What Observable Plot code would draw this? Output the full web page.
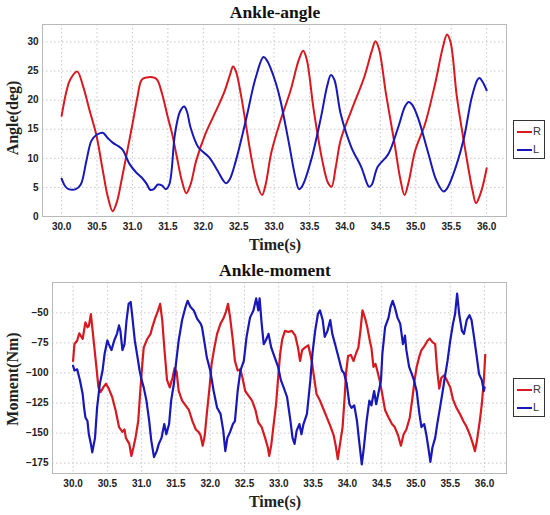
<!DOCTYPE html>
<html>
<head>
<meta charset="utf-8">
<script src="https://cdn.jsdelivr.net/npm/d3@7"></script>
<script src="https://cdn.jsdelivr.net/npm/@observablehq/plot@0.6"></script>
<style>
  body { margin: 0; background: #fff; }
  #wrap { position: relative; width: 550px; height: 515px; background: #fff; overflow: hidden; }
  .abs { position: absolute; }
  .title { position: absolute; left: 0; width: 550px; text-align: center; font-family: "Liberation Serif", serif; font-weight: bold; font-size: 17.5px; line-height: 17.5px; color: #111; }
  .xlab { position: absolute; left: 0; width: 550px; text-align: center; font-family: "Liberation Serif", serif; font-weight: bold; font-size: 16px; line-height: 16px; color: #222; }
  .ylab { position: absolute; font-family: "Liberation Serif", serif; font-weight: bold; font-size: 16px; line-height: 16px; color: #222; white-space: nowrap; transform: translate(-50%, -50%) rotate(-90deg); }
  .legend { position: absolute; border: 1px solid #333; background: #fff; font-family: "Liberation Sans", sans-serif; font-size: 11px; color: #333; box-sizing: border-box; }
  .legend .row { position: absolute; left: 3px; height: 12px; line-height: 12px; white-space: nowrap; }
  .legend .sw { display: inline-block; width: 15px; height: 2.4px; vertical-align: middle; margin-right: 1px; }
</style>
</head>
<body>
<div id="wrap">
  <div class="title" style="top:4px">Ankle-angle</div>
  <div class="abs" id="p1" style="left:0;top:0"></div>
  <div class="xlab" style="top:237px;padding-left:0">Time(s)</div>
  <div class="ylab" style="left:13px;top:118px">Angle(deg)</div>
  <div class="legend" style="left:513px;top:120px;width:32px;height:39px">
    <div class="row" style="top:4px"><span class="sw" style="background:#d71920"></span>R</div>
    <div class="row" style="top:22px"><span class="sw" style="background:#1818b8"></span>L</div>
  </div>

  <div class="title" style="top:262px">Ankle-moment</div>
  <div class="abs" id="p2" style="left:0;top:255px"></div>
  <div class="xlab" style="top:494px">Time(s)</div>
  <div class="ylab" style="left:13px;top:379px">Moment(Nm)</div>
  <div class="legend" style="left:513px;top:378px;width:32px;height:39px">
    <div class="row" style="top:4px"><span class="sw" style="background:#d71920"></span>R</div>
    <div class="row" style="top:22px"><span class="sw" style="background:#1818b8"></span>L</div>
  </div>
</div>
<script>
// ---------- data ----------
const xTicks = [30.0, 30.5, 31.0, 31.5, 32.0, 32.5, 33.0, 33.5, 34.0, 34.5, 35.0, 35.5, 36.0];
const angleTicks = [0, 5, 10, 15, 20, 25, 30];
const momentTicks = [-50, -75, -100, -125, -150, -175];
const seriesNames = ["R", "L"];
const seriesColors = ["#d71920", "#1818b8"];

// Ankle angle, right
const angleRT = [30.0,30.07,30.12,30.22,30.3,30.4,30.49,30.58,30.65,30.72,30.78,30.85,30.91,31.0,31.07,31.13,31.2,31.3,31.35,31.42,31.5,31.56,31.63,31.7,31.76,31.82,31.9,32.03,32.2,32.3,32.38,32.42,32.46,32.53,32.6,32.68,32.76,32.83,32.88,32.96,33.09,33.23,33.35,33.41,33.46,33.56,33.68,33.76,33.81,33.87,33.94,34.09,34.27,34.38,34.43,34.48,34.58,34.7,34.78,34.84,34.9,34.99,35.13,35.27,35.38,35.44,35.49,35.58,35.7,35.8,35.85,35.9,35.95,36.0];
const angleRV = [17.3,21.6,23.5,24.9,22.5,18,14,8,3.5,0.9,2.5,6.5,10.2,15.9,20.5,23.5,23.9,23.9,23.5,21,17,14.2,10,6,4.0,5.5,9.6,14.2,18.7,21.5,24.5,25.8,25,21,15.9,10,5.5,3.7,5.5,11,16.5,21.6,27,28.5,27,18.2,9.6,5.8,5.1,8.5,13.2,18.2,23.9,28.5,30.1,28.8,21,12.5,6.5,3.7,6,11.3,15.9,22.7,29,31.3,30,20.5,11.3,4.5,2.3,3.5,5.5,8.3];
// Ankle angle, left
const angleLT = [30.0,30.05,30.1,30.2,30.27,30.35,30.42,30.49,30.58,30.65,30.72,30.8,30.86,30.96,31.05,31.13,31.2,31.25,31.3,31.36,31.42,31.47,31.52,31.6,31.67,31.73,31.77,31.82,31.93,32.08,32.2,32.28,32.32,32.37,32.46,32.6,32.74,32.85,32.9,32.95,33.03,33.09,33.21,33.3,33.35,33.4,33.52,33.66,33.75,33.8,33.85,33.94,34.09,34.23,34.34,34.38,34.46,34.61,34.75,34.85,34.9,34.95,35.03,35.18,35.29,35.39,35.44,35.53,35.67,35.79,35.87,35.9,35.94,36.0];
const angleLV = [6.5,5.2,4.7,4.7,5.5,9.6,13,14.0,14.4,13.5,12.7,12.1,11.5,9,7.6,6.7,5.6,4.6,4.7,5.5,5.3,4.7,5.5,14.2,18,18.9,18,15.3,11.9,10.2,7.9,6.2,5.7,6.3,9.6,16.5,23.9,27.4,26.8,25.5,22.7,19.9,12.5,6.7,4.7,5.3,9.6,17,22.5,24.3,23.5,17.6,11.9,8.5,5.1,5.5,8.5,10.7,15.3,19,19.7,19.2,17,10.7,6.2,4.3,4.8,7.3,13,20.5,23.5,23.8,23.2,21.7];

// Ankle moment, right
const momentRT = [30.0,30.02,30.06,30.09,30.11,30.14,30.16,30.18,30.21,30.23,30.26,30.28,30.31,30.34,30.37,30.40,30.44,30.48,30.52,30.57,30.62,30.67,30.72,30.75,30.77,30.82,30.85,30.88,30.91,30.95,30.98,31.01,31.03,31.08,31.13,31.15,31.2,31.24,31.27,31.3,31.33,31.37,31.41,31.45,31.48,31.51,31.54,31.59,31.64,31.69,31.74,31.79,31.83,31.86,31.89,31.92,31.95,31.99,32.02,32.06,32.1,32.15,32.19,32.23,32.26,32.29,32.33,32.36,32.4,32.44,32.47,32.51,32.56,32.61,32.66,32.7,32.75,32.8,32.84,32.86,32.89,32.92,32.96,32.99,33.02,33.05,33.09,33.14,33.19,33.24,33.28,33.31,33.34,33.38,33.43,33.48,33.52,33.55,33.6,33.65,33.7,33.75,33.8,33.83,33.86,33.89,33.93,33.96,33.98,34.01,34.05,34.09,34.13,34.16,34.19,34.22,34.26,34.29,34.33,34.35,34.38,34.41,34.44,34.47,34.5,34.55,34.6,34.65,34.69,34.74,34.78,34.82,34.86,34.91,34.95,34.98,35.01,35.05,35.08,35.13,35.17,35.2,35.24,35.28,35.31,35.34,35.37,35.41,35.45,35.5,35.54,35.59,35.64,35.69,35.74,35.79,35.83,35.86,35.89,35.93,35.96,35.99,36.01];
const momentRV = [-90,-76,-73,-67,-69,-71.7,-64.7,-58,-62,-61,-51,-62,-78.6,-95,-112,-116,-112,-109,-113,-120,-131,-145,-149,-147,-154,-159,-169,-162,-154,-140,-115,-92.5,-79,-72,-67.5,-63,-54,-48,-42.5,-56,-79,-106,-112,-104,-96,-99,-115,-123,-127,-131,-140,-147,-149,-152,-160.5,-152,-134,-112,-92.5,-79,-67.5,-59,-55,-49,-42.5,-54,-73,-90,-98,-97,-104,-115,-119,-123,-131,-141,-145,-154,-162,-169,-160,-145,-126,-104,-84,-72,-65,-66,-65,-69,-79,-90,-81,-79,-77,-90,-106,-117.5,-123,-130,-137,-144,-152,-160.5,-171.7,-160,-145,-120,-100,-86,-85,-90,-83,-79,-65,-48,-55,-62,-74,-79,-95,-92.5,-99,-106,-115,-131,-137,-142.5,-145,-152,-160.5,-151,-147,-137,-120,-106,-95,-86,-81,-77,-73,-71.4,-74.4,-76,-98,-113,-104,-102,-106,-112,-122,-129,-134,-140,-145,-152,-159,-165,-156,-140,-126,-106,-85];
// Ankle moment, left
const momentLT = [30.0,30.02,30.06,30.1,30.14,30.16,30.18,30.21,30.23,30.26,30.28,30.32,30.35,30.39,30.43,30.46,30.5,30.52,30.56,30.6,30.64,30.67,30.69,30.72,30.75,30.78,30.81,30.84,30.86,30.9,30.94,30.97,31.0,31.03,31.07,31.11,31.14,31.18,31.22,31.25,31.29,31.33,31.36,31.4,31.43,31.47,31.5,31.54,31.59,31.64,31.67,31.71,31.76,31.81,31.86,31.88,31.92,31.95,32.0,32.05,32.1,32.15,32.19,32.22,32.25,32.29,32.33,32.36,32.4,32.44,32.49,32.53,32.58,32.63,32.67,32.7,32.72,32.75,32.78,32.81,32.85,32.89,32.94,32.99,33.03,33.07,33.12,33.17,33.2,33.23,33.26,33.3,33.33,33.36,33.41,33.46,33.49,33.53,33.57,33.6,33.64,33.67,33.71,33.75,33.78,33.82,33.87,33.92,33.95,33.99,34.03,34.06,34.1,34.14,34.17,34.21,34.24,34.28,34.32,34.35,34.39,34.42,34.45,34.49,34.51,34.55,34.6,34.63,34.66,34.69,34.73,34.77,34.81,34.84,34.86,34.9,34.94,34.97,35.01,35.05,35.08,35.12,35.15,35.18,35.21,35.24,35.28,35.31,35.35,35.39,35.42,35.46,35.5,35.54,35.57,35.6,35.63,35.67,35.7,35.74,35.78,35.81,35.84,35.88,35.92,35.96,35.99,36.0];
const momentLV = [-94,-98,-97,-106,-117.5,-128.6,-137,-140,-151,-159,-166,-154,-129,-109,-98,-84,-73,-76,-81,-73,-67.5,-60.5,-65,-81,-76,-56,-42.5,-41,-51,-73,-87,-98,-106,-112,-123,-140,-156,-170,-165,-159,-154,-142.5,-151,-142.5,-123,-109,-92.5,-73,-56,-45,-40,-45,-48,-55,-59,-62,-76,-87,-98,-115,-129,-134,-148,-165,-154,-149,-142.5,-140,-115,-98,-90,-70,-54,-48,-38,-48,-38,-59,-76,-73,-67.5,-79,-87,-95,-106,-112,-120,-140,-154,-159,-148,-142.5,-151,-142.5,-134,-106,-84,-65,-51,-48,-56,-70,-65,-56,-67.5,-76,-87,-98,-100,-109,-126,-129,-127,-140,-156,-176,-162,-140,-123,-127,-115,-126,-117.5,-106,-84,-62,-54,-45,-40,-45,-54,-59,-76,-69,-81,-95,-101,-106,-115,-134,-145,-142.5,-151,-162,-174,-162,-154,-142.5,-129,-115,-104,-90,-73,-59,-51,-34,-51,-65,-67.5,-56,-52,-56,-67.5,-84,-101,-106,-115,-112];

// ---------- build ----------
function rows(ts, vs, s) { return ts.map((t, i) => ({t, v: vs[i], s})); }
const angleData = [...rows(angleRT, angleRV, "R"), ...rows(angleLT, angleLV, "L")];
const momentData = [...rows(momentRT, momentRV, "R"), ...rows(momentLT, momentLV, "L")];

const style = {fontFamily: "Liberation Sans, Arial, sans-serif", fontSize: "10px", fontWeight: "bold", color: "#222", background: "transparent", overflow: "visible"};
const gridStyle = {stroke: "#c8c8c8", strokeOpacity: 1, strokeDasharray: "1.5,2.5"};

function panel({data, yDomain, yTicks, xDomain, height, mt, mb, ml, curve, sw}) {
  return Plot.plot({
    width: 550, height,
    marginTop: mt, marginBottom: mb, marginLeft: ml, marginRight: 44,
    style,
    x: {domain: xDomain},
    y: {domain: yDomain},
    color: {domain: seriesNames, range: seriesColors},
    marks: [
      Plot.gridX(xTicks, gridStyle),
      Plot.gridY(yTicks, gridStyle),
      Plot.frame({stroke: "#b8b8b8"}),
      Plot.axisX(xTicks, {tickSize: 0, tickPadding: 6, tickFormat: d => d.toFixed(1), label: null}),
      Plot.axisY(yTicks, {tickSize: 0, tickPadding: 4, label: null}),
      Plot.line(data, {x: "t", y: "v", z: "s", stroke: "s", strokeWidth: sw, curve, strokeLinejoin: "round"})
    ]
  });
}

document.getElementById("p1").append(panel({
  data: angleData, yDomain: [0, 33], yTicks: angleTicks, xDomain: [29.73, 36.28],
  height: 255, mt: 24, mb: 39, ml: 42, curve: "catmull-rom", sw: 2
}));
document.getElementById("p2").append(panel({
  data: momentData, yDomain: [-183.6, -24.8], yTicks: momentTicks, xDomain: [29.7, 36.32],
  height: 260, mt: 27, mb: 42, ml: 52, curve: "linear", sw: 2.2
}));
</script>
</body>
</html>
